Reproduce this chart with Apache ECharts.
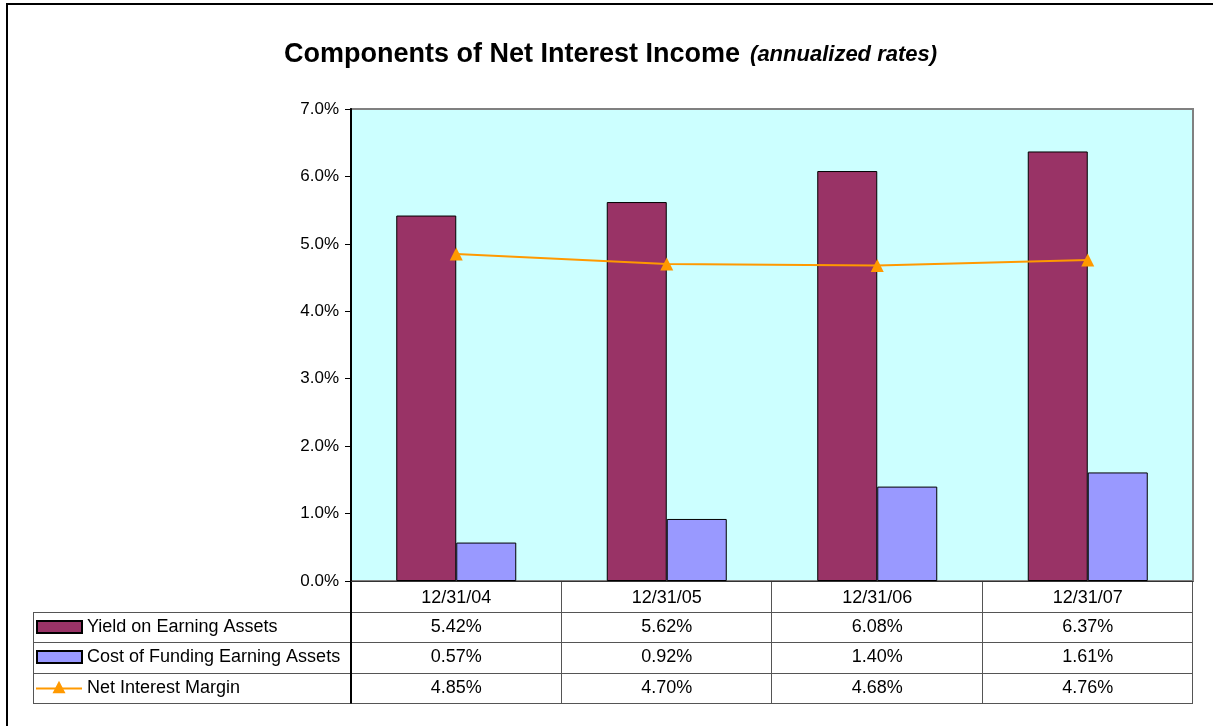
<!DOCTYPE html>
<html>
<head>
<meta charset="utf-8">
<title>Components of Net Interest Income</title>
<script src="https://cdn.jsdelivr.net/npm/echarts@6/dist/echarts.min.js"></script>
<style>
  html, body { margin: 0; padding: 0; background: #ffffff; }
  #chart { width: 1213px; height: 726px; }
</style>
</head>
<body>
<div id="chart"></div>
<script>
// Reporting dates (one column each)
const categories = ['12/31/04', '12/31/05', '12/31/06', '12/31/07'];

// Annualized rates, in percent
const yieldOnEarningAssets = [5.42, 5.62, 6.08, 6.37];
const costOfFundingEarningAssets = [0.57, 0.92, 1.40, 1.61];
const netInterestMargin = [4.85, 4.70, 4.68, 4.76];

const seriesNames = ['Yield on Earning Assets', 'Cost of Funding Earning Assets', 'Net Interest Margin'];

// Value axis range and step (percent)
const yMin = 0;
const yMax = 7;
const yStep = 1;

const FONT = "'Liberation Sans', Arial, Helvetica, sans-serif";
const COLORS = ['#993366', '#9999FF', '#FF9900'];

// Plot and table layout
const GRID = { left: 351, top: 109, right: 20, bottom: 145 };
const TABLE_LEFT = 33;
const TABLE_BOTTOM = 703;
const TABLE_ROWS = 4;

const chart = echarts.init(document.getElementById('chart'), null, { renderer: 'canvas' });

chart.setOption({
  animation: false,
  backgroundColor: '#ffffff',
  title: {
    left: 279,
    top: 36,
    text: '{a|Components of Net Interest Income}  {b|(annualized rates)}',
    textStyle: {
      rich: {
        a: { fontFamily: FONT, fontWeight: 'bold', fontSize: 27, color: '#000' },
        b: { fontFamily: FONT, fontWeight: 'bold', fontStyle: 'italic', fontSize: 22, color: '#000' }
      }
    }
  },
  grid: {
    left: GRID.left, top: GRID.top, right: GRID.right, bottom: GRID.bottom,
    show: true,
    backgroundColor: '#CCFFFF',
    borderColor: '#808080',
    borderWidth: 2
  },
  xAxis: {
    type: 'category',
    data: categories,
    boundaryGap: true,
    axisLine: { show: true, lineStyle: { color: '#333', width: 1 } },
    axisTick: { show: false },
    axisLabel: { fontFamily: FONT, fontSize: 18, color: '#000', margin: 8 },
    splitLine: { show: false }
  },
  yAxis: {
    type: 'value',
    min: yMin, max: yMax, interval: yStep,
    axisLine: { show: true, lineStyle: { color: '#000', width: 2 } },
    axisTick: { show: true, length: 6, lineStyle: { color: '#000', width: 1 } },
    axisLabel: {
      fontFamily: FONT, fontSize: 17, color: '#000', margin: 12,
      formatter: v => v.toFixed(1) + '%'
    },
    splitLine: { show: false }
  },
  series: [
    {
      name: seriesNames[0], type: 'bar', data: yieldOnEarningAssets,
      barWidth: 60, barGap: '0%',
      itemStyle: { color: COLORS[0], borderColor: '#000', borderWidth: 1 }
    },
    {
      name: seriesNames[1], type: 'bar', data: costOfFundingEarningAssets,
      barWidth: 60, barGap: '0%',
      itemStyle: { color: COLORS[1], borderColor: '#000', borderWidth: 1 }
    },
    {
      name: seriesNames[2], type: 'line', data: netInterestMargin,
      symbol: 'triangle', symbolSize: 13, z: 5,
      lineStyle: { color: COLORS[2], width: 2 },
      itemStyle: { color: COLORS[2] }
    }
  ]
});

// Data table under the plot, aligned to the category axis
function buildTable() {
  const width = chart.getWidth();
  const height = chart.getHeight();
  const plotLeft = GRID.left;
  const plotRight = width - GRID.right;
  const plotBottom = height - GRID.bottom;
  const rowH = (TABLE_BOTTOM - plotBottom) / TABLE_ROWS;
  const centers = categories.map((c, i) => chart.convertToPixel({ xAxisIndex: 0 }, i));
  const band = (plotRight - plotLeft) / categories.length;

  const g = [];
  const lineStyle = { stroke: '#555', lineWidth: 1 };

  // outer frame of the whole chart
  g.push({ type: 'rect', shape: { x: 7, y: 4, width: width + 20, height: height + 20 },
           style: { fill: null, stroke: '#000', lineWidth: 2 }, silent: true, z: 100 });

  // horizontal rules
  for (let k = 1; k <= TABLE_ROWS; k++) {
    const y = Math.round(plotBottom + k * rowH) + 0.5;
    g.push({ type: 'line', shape: { x1: TABLE_LEFT, y1: y, x2: plotRight, y2: y }, style: lineStyle, silent: true });
  }
  // vertical rules
  const yRow1 = Math.round(plotBottom + rowH) + 0.5;
  g.push({ type: 'line', shape: { x1: TABLE_LEFT + 0.5, y1: yRow1, x2: TABLE_LEFT + 0.5, y2: TABLE_BOTTOM + 0.5 }, style: lineStyle, silent: true });
  g.push({ type: 'line', shape: { x1: plotLeft, y1: plotBottom, x2: plotLeft, y2: TABLE_BOTTOM + 0.5 },
           style: { stroke: '#000', lineWidth: 2 }, silent: true });
  for (let i = 1; i <= categories.length; i++) {
    const x = Math.round(plotLeft + i * band) - 0.5;
    g.push({ type: 'line', shape: { x1: x, y1: plotBottom, x2: x, y2: TABLE_BOTTOM + 0.5 }, style: lineStyle, silent: true });
  }

  const rows = [yieldOnEarningAssets, costOfFundingEarningAssets, netInterestMargin];
  rows.forEach((vals, r) => {
    const cy = plotBottom + (r + 1.5) * rowH;
    // legend key
    if (r < 2) {
      g.push({ type: 'rect', shape: { x: 37, y: Math.round(cy) - 6, width: 45, height: 12 },
               style: { fill: COLORS[r], stroke: '#000', lineWidth: 2 }, silent: true });
    } else {
      g.push({ type: 'line', shape: { x1: 36, y1: Math.round(cy) + 0.5, x2: 82, y2: Math.round(cy) + 0.5 },
               style: { stroke: COLORS[2], lineWidth: 2 }, silent: true });
      g.push({ type: 'polygon', shape: { points: [[59, cy - 7], [65.5, cy + 5.5], [52.5, cy + 5.5]] },
               style: { fill: COLORS[2] }, silent: true });
    }
    g.push({ type: 'text', x: 87, y: cy,
             style: { text: seriesNames[r], font: '18px ' + FONT, fill: '#000', textVerticalAlign: 'middle', verticalAlign: 'middle' },
             silent: true });
    vals.forEach((v, i) => {
      g.push({ type: 'text', x: centers[i], y: cy,
               style: { text: v.toFixed(2) + '%', font: '18px ' + FONT, fill: '#000',
                        textAlign: 'center', align: 'center', textVerticalAlign: 'middle', verticalAlign: 'middle' },
               silent: true });
    });
  });

  chart.setOption({ graphic: g });
}

buildTable();
</script>
</body>
</html>
